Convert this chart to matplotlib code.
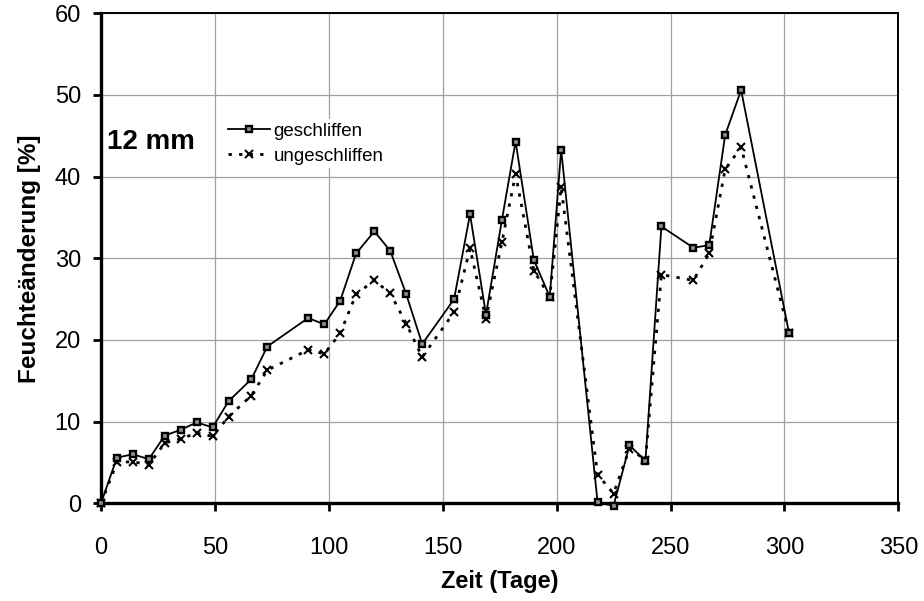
import matplotlib
matplotlib.use("Agg")
import matplotlib.pyplot as plt

# Measurement days and moisture change (%) for 12 mm samples
days = [0, 7, 14, 21, 28, 35, 42, 49, 56, 66, 73, 91, 98, 105, 112, 120, 127,
        134, 141, 155, 162, 169, 176, 182, 190, 197, 202, 218, 225, 232, 239,
        246, 260, 267, 274, 281, 302]
geschliffen = [0, 5.6, 6.0, 5.4, 8.3, 9.0, 9.9, 9.3, 12.5, 15.2, 19.2, 22.7,
               21.9, 24.8, 30.6, 33.3, 30.9, 25.6, 19.5, 25.0, 35.4, 23.1, 34.7,
               44.3, 29.8, 25.3, 43.3, 0.1, -0.3, 7.1, 5.2, 33.9, 31.3, 31.6,
               45.1, 50.6, 20.9]
ungeschliffen = [0, 5.0, 5.1, 4.7, 7.4, 7.9, 8.6, 8.2, 10.6, 13.2, 16.3, 18.8,
                 18.3, 20.8, 25.6, 27.3, 25.7, 22.0, 17.9, 23.4, 31.2, 22.6,
                 32.0, 40.3, 28.5, 25.3, 38.7, 3.5, 1.2, 6.7, 5.3, 28.0, 27.3,
                 30.6, 40.9, 43.6, 20.9]

x_ticks = [0, 50, 100, 150, 200, 250, 300, 350]
y_ticks = [0, 10, 20, 30, 40, 50, 60]

plt.rcParams['font.family'] = ['Liberation Sans', 'DejaVu Sans']

fig = plt.figure(figsize=(9.24, 6.01), dpi=100)
ax = fig.add_axes([101 / 924, 1 - 503.3 / 601, (898.3 - 101) / 924, (503.3 - 13.3) / 601])

ax.plot(days, geschliffen, color='black', lw=1.3, marker='s', markersize=3.8,
        mfc='#909090', mec='black', mew=1.7, label='geschliffen', clip_on=False, zorder=4)
ax.plot(days, ungeschliffen, color='black', lw=2.0, linestyle=(0, (1.2, 2.6)),
        marker='x', markersize=6, mew=1.5, label='ungeschliffen', clip_on=False, zorder=3)

ax.set_xlim(0, 350)
ax.set_ylim(0, 60)
ax.set_xticks(x_ticks)
ax.set_yticks(y_ticks)
ax.grid(True, color='#a0a0a0', lw=0.9)
ax.set_axisbelow(True)

for side in ('left', 'bottom'):
    ax.spines[side].set_linewidth(2.4)
for side in ('top', 'right'):
    ax.spines[side].set_linewidth(1.4)
ax.tick_params(direction='out', length=5.5, width=2, labelsize=17)
ax.tick_params(axis='x', pad=19)
ax.tick_params(axis='y', pad=9)

ax.set_xlabel('Zeit (Tage)', fontsize=17, fontweight='bold', labelpad=8)
ax.set_ylabel('Feuchteänderung [%]', fontsize=17.5, fontweight='bold', labelpad=10)

ax.text(2.5, 44.3, '12 mm', fontsize=20, fontweight='bold', va='center', ha='left')

leg = ax.legend(loc='upper left', bbox_to_anchor=(0.155, 0.784), frameon=True,
                fontsize=13.5, handlelength=2.2, handletextpad=0.2, labelspacing=0.4,
                borderpad=0.2, borderaxespad=0)
leg.get_frame().set_edgecolor('none')
leg.get_frame().set_facecolor('white')
leg.get_frame().set_alpha(1)

fig.savefig('out.png', dpi=100)
